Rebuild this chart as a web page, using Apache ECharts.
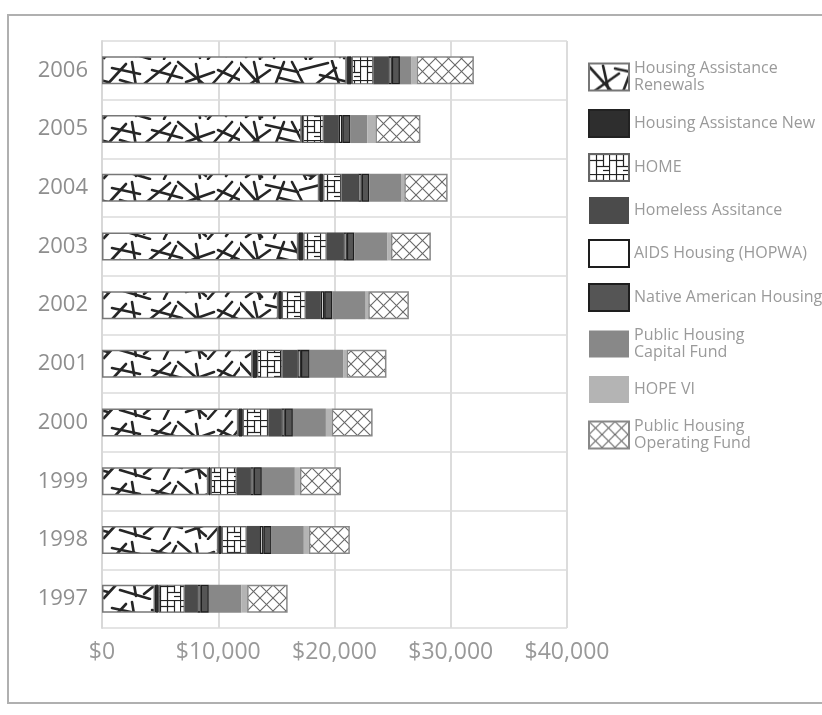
<!DOCTYPE html>
<html>
<head>
<meta charset="utf-8">
<script src="https://cdn.jsdelivr.net/npm/echarts@6/dist/echarts.min.js"></script>
<style>
html,body{margin:0;padding:0;background:#fff;}
#chart{width:822px;height:715px;}
</style>
</head>
<body>
<div id="chart"></div>
<script>
// ---- data (millions of dollars) ----
const years = ['1997','1998','1999','2000','2001','2002','2003','2004','2005','2006'];
const seriesNames = ['Housing Assistance Renewals','Housing Assistance New','HOME','Homeless Assitance','AIDS Housing (HOPWA)','Native American Housing','Public Housing Capital Fund','HOPE VI','Public Housing Operating Fund'];
const renewals  = [4560, 10010, 9150, 11730, 12950, 15170, 16890, 18690, 17180, 21050];
const newAssist = [320, 290, 200, 380, 390, 300, 430, 340, 100, 430];
const home      = [2240, 2150, 2240, 2240, 2180, 2060, 2010, 1580, 1800, 1860];
const homeless  = [1080, 1140, 1170, 1080, 1290, 1290, 1430, 1430, 1290, 1290];
const aids      = [290, 290, 290, 290, 300, 290, 300, 300, 300, 300];
const native    = [700, 700, 700, 700, 750, 700, 640, 650, 700, 700];
const capital   = [2800, 2780, 2840, 2840, 2880, 2870, 2860, 2730, 1460, 1000];
const hope6     = [490, 430, 430, 490, 290, 220, 290, 280, 690, 430];
const operating = [3490, 3530, 3530, 3530, 3440, 3500, 3440, 3730, 3870, 4930];
const xTicks = [0, 10000, 20000, 30000, 40000];
const legendLabels = {
  'Housing Assistance Renewals': 'Housing Assistance\nRenewals',
  'Public Housing Capital Fund': 'Public Housing\nCapital Fund',
  'Public Housing Operating Fund': 'Public Housing\nOperating Fund'
};

// ---- fill patterns ----
function tile(w, h, draw) {
  const c = document.createElement('canvas');
  c.width = w; c.height = h;
  const g = c.getContext('2d');
  g.fillStyle = '#fff'; g.fillRect(0, 0, w, h);
  draw(g);
  return { image: c, repeat: 'repeat' };
}
const stickSegs = [
  [0,3,22,27],[6,27,30,10],[14,2,20,29],[26,5,58,12],[34,28,44,2],[40,18,72,26],
  [52,2,66,29],[60,10,88,3],[70,29,96,8],[80,15,108,22],[92,1,100,27],[104,28,126,4],
  [112,8,140,14],[120,20,150,29],[132,2,136,26],[144,24,170,3],[152,10,182,18],
  [164,29,176,6],[178,2,206,26],[186,22,214,12],[196,4,200,28],[208,29,232,2],
  [218,10,240,20],[226,26,240,8]
];
const sticksPattern = tile(240, 30, g => {
  g.strokeStyle = '#262626'; g.lineWidth = 2.6; g.lineCap = 'round';
  stickSegs.forEach(s => { g.beginPath(); g.moveTo(s[0], s[1]); g.lineTo(s[2], s[3]); g.stroke(); });
});
const gridPattern = tile(20, 20, g => {
  g.strokeStyle = '#222'; g.lineWidth = 1.2;
  [[0.5,0,0.5,20],[7.5,0,7.5,20],[14.5,0,14.5,12],[0,0.5,20,0.5],[0,6.5,14,6.5],[7,12.5,20,12.5],[14,16.5,20,16.5]].forEach(s => {
    g.beginPath(); g.moveTo(s[0], s[1]); g.lineTo(s[2], s[3]); g.stroke();
  });
});
const hatchPattern = tile(13, 13, g => {
  g.strokeStyle = '#666'; g.lineWidth = 1.1;
  g.beginPath(); g.moveTo(0, 0); g.lineTo(13, 13); g.stroke();
  g.beginPath(); g.moveTo(13, 0); g.lineTo(0, 13); g.stroke();
});

const styles = [
  { color: sticksPattern, borderColor: '#777', borderWidth: 1.5 },
  { color: '#2e2e2e', borderColor: '#222', borderWidth: 1 },
  { color: gridPattern, borderColor: '#666', borderWidth: 1.2 },
  { color: '#4b4b4b', borderColor: '#4b4b4b', borderWidth: 0 },
  { color: '#ffffff', borderColor: '#1e1e1e', borderWidth: 1.3 },
  { color: '#555555', borderColor: '#1e1e1e', borderWidth: 1.3 },
  { color: '#888888', borderColor: '#888888', borderWidth: 0 },
  { color: '#b4b4b4', borderColor: '#b4b4b4', borderWidth: 0 },
  { color: hatchPattern, borderColor: '#888', borderWidth: 1.5 }
];
const values = [renewals, newAssist, home, homeless, aids, native, capital, hope6, operating];

const chart = echarts.init(document.getElementById('chart'), null, { renderer: 'canvas' });
const font = '"Open Sans", "DejaVu Sans", sans-serif';
chart.setOption({
  animation: false,
  backgroundColor: '#fff',
  graphic: [{
    type: 'rect', silent: true, z: -1,
    shape: { x: 8, y: 15, width: 830, height: 688 },
    style: { fill: 'none', stroke: '#b0b0b0', lineWidth: 2 }
  }],
  grid: { left: 102, right: 255, top: 41, bottom: 87, containLabel: false },
  legend: {
    orient: 'vertical', left: 583, top: 55,
    itemWidth: 40, itemHeight: 27, itemGap: 15, icon: 'rect',
    data: seriesNames,
    formatter: n => legendLabels[n] || n,
    textStyle: { color: '#9a9a9a', fontSize: 16, fontFamily: font, lineHeight: 17 }
  },
  xAxis: {
    type: 'value', min: xTicks[0], max: xTicks[xTicks.length - 1], interval: xTicks[1] - xTicks[0],
    axisLine: { show: false }, axisTick: { show: false },
    axisLabel: { color: '#999', fontSize: 23, fontFamily: font, margin: 13,
      formatter: v => '$' + v.toLocaleString('en-US') },
    splitLine: { lineStyle: { color: '#dcdcdc', width: 2 } }
  },
  yAxis: {
    type: 'category', data: years,
    axisLine: { show: true, lineStyle: { color: '#d8d8d8', width: 2 } },
    axisTick: { show: false },
    axisLabel: { color: '#8e8e8e', fontSize: 22, fontFamily: font, margin: 14 },
    splitLine: { show: true, lineStyle: { color: '#e4e4e4', width: 2 } }
  },
  series: seriesNames.map((name, i) => ({
    name, type: 'bar', stack: 'total', barWidth: 28,
    data: values[i], itemStyle: styles[i]
  }))
});
</script>
</body>
</html>
